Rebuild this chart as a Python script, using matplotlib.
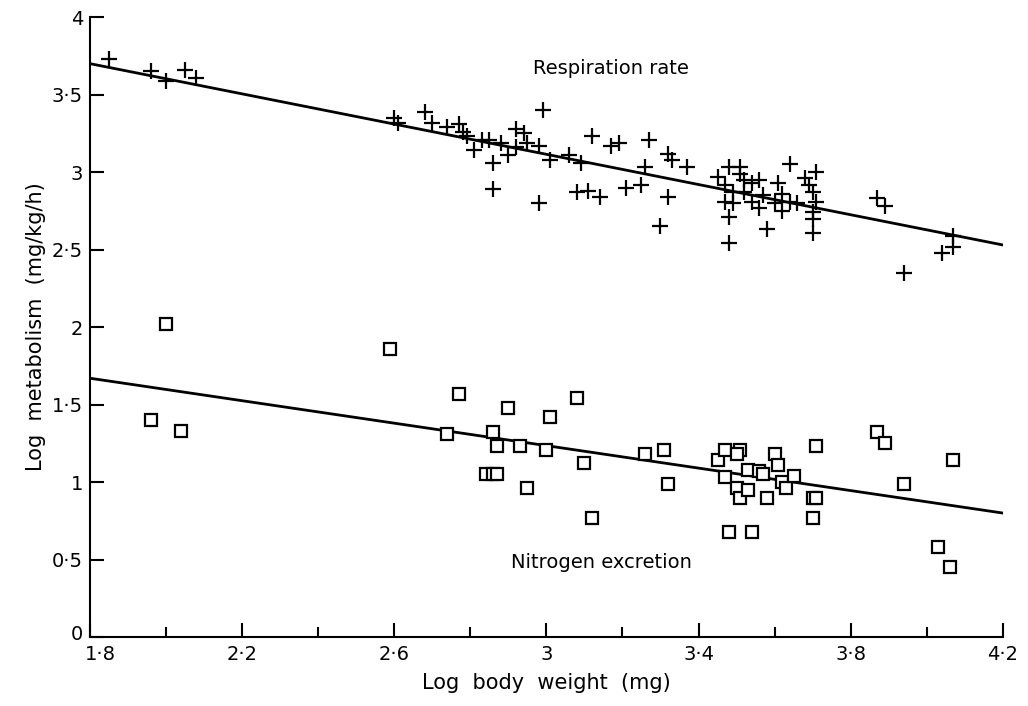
import matplotlib
matplotlib.use("Agg")
import matplotlib.pyplot as plt
from matplotlib.transforms import ScaledTranslation

# respiration rate (+ markers)
resp_x = [1.85, 1.96, 2.00, 2.05, 2.08, 2.60, 2.61, 2.68, 2.70, 2.74,
          2.77, 2.78, 2.79, 2.81, 2.83, 2.85, 2.88, 2.86, 2.86, 2.90,
          2.92, 2.92, 2.94, 2.95, 2.98, 2.99, 3.01, 2.98, 3.06, 3.09,
          3.12, 3.08, 3.11, 3.14, 3.17, 3.19, 3.27, 3.32, 3.33, 3.37,
          3.21, 3.25, 3.26, 3.32, 3.30, 3.45, 3.48, 3.51, 3.51, 3.52,
          3.54, 3.56, 3.61, 3.64, 3.47, 3.49, 3.52, 3.57, 3.62, 3.47,
          3.49, 3.54, 3.56, 3.60, 3.62, 3.64, 3.66, 3.68, 3.71, 3.69,
          3.70, 3.71, 3.70, 3.70, 3.70, 3.48, 3.58, 3.48, 3.87, 3.89,
          4.07, 4.04, 4.07, 3.94]
resp_y = [3.73, 3.65, 3.59, 3.66, 3.61, 3.35, 3.32, 3.39, 3.32, 3.29,
          3.31, 3.26, 3.23, 3.14, 3.21, 3.21, 3.19, 3.06, 2.89, 3.11,
          3.28, 3.16, 3.25, 3.19, 3.17, 3.40, 3.08, 2.80, 3.11, 3.06,
          3.23, 2.87, 2.88, 2.84, 3.17, 3.19, 3.21, 3.12, 3.08, 3.03,
          2.90, 2.92, 3.03, 2.84, 2.65, 2.97, 3.03, 3.03, 2.99, 2.95,
          2.93, 2.95, 2.93, 3.05, 2.92, 2.87, 2.87, 2.85, 2.86, 2.81,
          2.80, 2.81, 2.77, 2.80, 2.75, 2.81, 2.80, 2.96, 3.00, 2.92,
          2.87, 2.81, 2.74, 2.70, 2.61, 2.71, 2.63, 2.54, 2.83, 2.78,
          2.59, 2.48, 2.52, 2.35]

# nitrogen excretion (square markers)
nitro_x = [2.00, 1.96, 2.04, 2.59, 2.77, 2.90, 3.01, 3.08, 2.74, 2.86,
           2.87, 2.93, 3.00, 3.10, 2.84, 2.86, 2.87, 2.95, 3.12, 3.26,
           3.31, 3.32, 3.45, 3.47, 3.51, 3.50, 3.47, 3.50, 3.51, 3.53,
           3.53, 3.56, 3.57, 3.60, 3.61, 3.58, 3.62, 3.63, 3.65, 3.70,
           3.71, 3.70, 3.48, 3.54, 3.71, 3.87, 3.89, 3.94, 4.07, 4.03,
           4.06]
nitro_y = [2.02, 1.40, 1.33, 1.86, 1.57, 1.48, 1.42, 1.54, 1.31, 1.32,
           1.23, 1.23, 1.21, 1.12, 1.05, 1.05, 1.05, 0.96, 0.77, 1.18,
           1.21, 0.99, 1.14, 1.21, 1.21, 1.18, 1.03, 0.96, 0.90, 0.95,
           1.08, 1.07, 1.05, 1.18, 1.11, 0.90, 1.00, 0.96, 1.04, 0.90,
           0.90, 0.77, 0.68, 0.68, 1.23, 1.32, 1.25, 0.99, 1.14, 0.58,
           0.45]

# fitted regression lines, end points at x = 1.8 and 4.2
fit_x = [1.8, 4.2]
resp_fit = [3.70, 2.53]
nitro_fit = [1.67, 0.80]

xticks = [1.8, 2.2, 2.6, 3.0, 3.4, 3.8, 4.2]
xminor = [2.0, 2.4, 2.8, 3.2, 3.6, 4.0]
xlabels = ['1·8', '2·2', '2·6', '3', '3·4', '3·8', '4·2']
yticks = [0, 0.5, 1, 1.5, 2, 2.5, 3, 3.5, 4]
ylabels = ['0', '0·5', '1', '1·5', '2', '2·5', '3', '3·5', '4']

fig = plt.figure(figsize=(10.28, 7.06), dpi=100)
ax = fig.add_axes([0.0875, 0.0977, 0.888, 0.878])

ax.plot(fit_x, resp_fit, color='black', lw=2)
ax.plot(fit_x, nitro_fit, color='black', lw=2)
ax.plot(resp_x, resp_y, '+', color='black', ms=11, mew=1.6)
ax.plot(nitro_x, nitro_y, 's', mfc='white', mec='black', ms=9, mew=1.6)

ax.text(3.17, 3.67, 'Respiration rate', fontsize=14, ha='center', va='center')
ax.text(3.145, 0.48, 'Nitrogen excretion', fontsize=14, ha='center', va='center')

ax.set_xlim(1.8, 4.2)
ax.set_ylim(0, 4)
ax.set_xticks(xticks)
ax.set_xticklabels(xlabels)
ax.set_xticks(xminor, minor=True)
ax.set_yticks(yticks)
ax.set_yticklabels(ylabels)
ax.tick_params(direction='in', length=10, width=1.5, labelsize=14, pad=6)
ax.tick_params(which='minor', direction='in', length=7, width=1.5)
ax.tick_params(axis='y', pad=5)

# keep "0" and "1·8" apart at the corner
lab0 = ax.get_xticklabels()[0]
lab0.set_transform(lab0.get_transform() + ScaledTranslation(10/100, 0, fig.dpi_scale_trans))
laby0 = ax.get_yticklabels()[0]
laby0.set_transform(laby0.get_transform() + ScaledTranslation(0, 5/100, fig.dpi_scale_trans))

for s in ['top', 'right']:
    ax.spines[s].set_visible(False)
for s in ['left', 'bottom']:
    ax.spines[s].set_linewidth(1.5)

ax.set_xlabel('Log  body  weight  (mg)', fontsize=15, labelpad=6)
ax.set_ylabel('Log  metabolism  (mg/kg/h)', fontsize=15, labelpad=4)

fig.savefig('out.png', dpi=100)
